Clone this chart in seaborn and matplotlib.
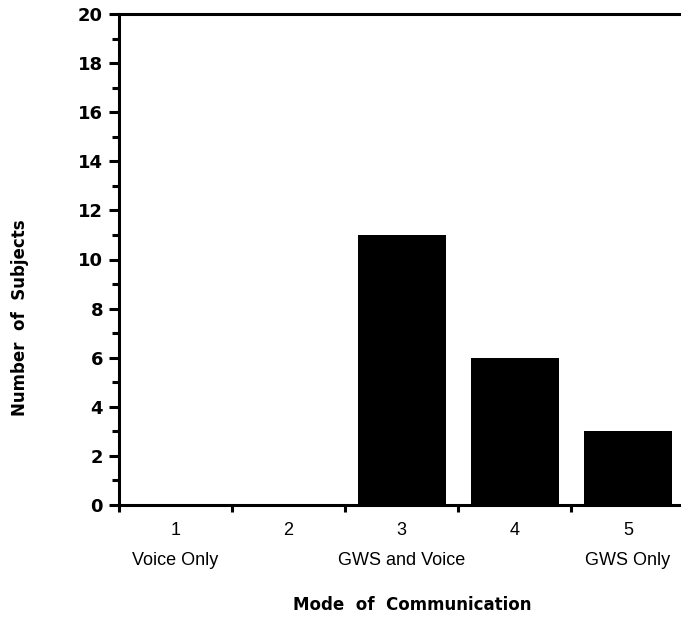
import matplotlib
matplotlib.use("Agg")
import matplotlib.pyplot as plt
import seaborn as sns
import pandas as pd
import numpy as np
from matplotlib.ticker import MultipleLocator, FixedLocator

categories = ["1\nVoice Only", "2", "3\nGWS and Voice", "4", "5\nGWS Only"]
subjects = [0, 0, 11, 6, 3]

sns.set_style("ticks")
plt.rcParams['font.family'] = ['Liberation Sans', 'DejaVu Sans']
plt.rcParams['text.color'] = 'black'
plt.rcParams['axes.labelcolor'] = 'black'
plt.rcParams['xtick.color'] = 'black'
plt.rcParams['ytick.color'] = 'black'

df = pd.DataFrame({"mode": categories, "n": subjects})

fig = plt.figure(figsize=(6.81, 6.30), dpi=100)
ax = fig.add_axes([119/681, 125/630, 1 - 119/681, (505-14)/630])

sns.barplot(data=df, x="mode", y="n", color="black", width=0.78,
            saturation=1, ax=ax, edgecolor="black", linewidth=0)

ax.set_ylim(0, 20)
ax.set_xlim(-0.5, 4.47)
ax.yaxis.set_major_locator(MultipleLocator(2))
ax.yaxis.set_minor_locator(MultipleLocator(1))
ax.xaxis.set_minor_locator(FixedLocator([-0.5, 0.5, 1.5, 2.5, 3.5]))

for s in ["left", "top", "bottom"]:
    ax.spines[s].set_linewidth(2.2)
    ax.spines[s].set_color("black")
ax.spines["right"].set_visible(False)

ax.tick_params(axis="y", which="major", length=7, width=2.2, direction="out",
               labelsize=13, pad=4.5, colors="black")
ax.tick_params(axis="y", which="minor", length=5, width=2.2, direction="out")
ax.tick_params(axis="x", which="major", length=0, labelsize=13, pad=12, colors="black")
ax.tick_params(axis="x", which="minor", length=5, width=2.2, direction="out")
for lbl in ax.get_yticklabels():
    lbl.set_fontweight("bold")
    lbl.set_family("DejaVu Sans")
for lbl in ax.get_xticklabels():
    lbl.set_linespacing(2.0)

ax.set_xlabel("Mode  of  Communication", fontsize=12, fontweight="bold",
              family="DejaVu Sans")
ax.set_ylabel("Number  of  Subjects", fontsize=12, fontweight="bold",
              family="DejaVu Sans")
ax.xaxis.set_label_coords((412-119)/562, -(605-505)/491)
ax.yaxis.set_label_coords(-(119-20)/562, (505-318)/491)
ax.xaxis.label.set_va("center")
ax.yaxis.label.set_va("center")

fig.savefig("out.png", dpi=100)
